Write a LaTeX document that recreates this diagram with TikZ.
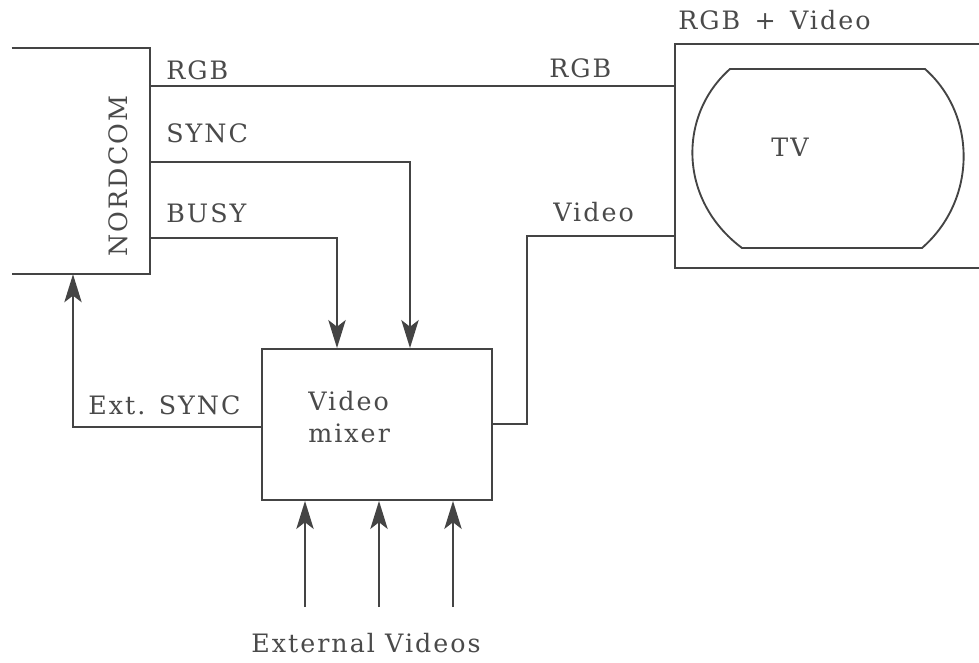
\documentclass[tikz,border=0pt]{standalone}
\usepackage{fontspec}
\setmainfont{DejaVu Serif}[LetterSpace=8]
\usetikzlibrary{arrows.meta,fit}
\definecolor{ink}{HTML}{444444}
\definecolor{txt}{HTML}{4A4A4A}
\begin{document}
\begin{tikzpicture}[x=0.75pt,y=-0.75pt,
  line/.style={draw=ink,line width=1.4pt},
  arr/.style={line,-{Stealth[length=21pt,width=13pt,inset=5pt]}},
  lbl/.style={text=txt,font=\fontsize{19pt}{24pt}\selectfont,inner sep=0pt},
  region/.style={inner sep=0pt,fit={#1}}]
\useasboundingbox (0,0) rectangle (979,663);
\clip (0,0) rectangle (979,663);
% blocks
\node[region={(12,48)(150,274)}] (nc) {};
\node[region={(675,44)(995,268)}] (tv) {};
\node[line,region={(262,349)(492,500)}] (mix) {};
\draw[line] (nc.north west) -- (nc.north east) -- (nc.south east) -- (nc.south west);
\draw[line] (tv.north east) -- (tv.north west) -- (tv.south west) -- (tv.south east);
% screen
\draw[line] (730,69) -- (925,69) .. controls (977,115) and (977,200) .. (922,248)
  -- (742,248) .. controls (678,200) and (678,115) .. (730,69) -- cycle;
% coordinates
\coordinate (yrgb) at (0,86);
\coordinate (sync) at (410,162);
\coordinate (busy) at (337,238);
\coordinate (ext) at (73,427);
\coordinate (vid1) at (527,424);
\coordinate (vid2) at (527,236);
\coordinate (e1) at (305,607);
\coordinate (e2) at (379,607);
\coordinate (e3) at (453,607);
% connectors
\draw[line] (nc.east |- yrgb) -- (tv.west |- yrgb);
\draw[arr] (nc.east |- sync) -- (sync) -- (sync |- mix.north);
\draw[arr] (nc.east |- busy) -- (busy) -- (busy |- mix.north);
\draw[arr] (mix.west |- ext) -- (ext) -- (ext |- nc.south);
\draw[line] (mix.east |- vid1) -- (vid1) -- (vid2) -- (tv.west |- vid2);
\draw[arr] (e1) -- (e1 |- mix.south);
\draw[arr] (e2) -- (e2 |- mix.south);
\draw[arr] (e3) -- (e3 |- mix.south);
% labels
\node[lbl,anchor=west] (lrgb1) at (166,70) {RGB};
\node[lbl,anchor=west] (lrgb2) at (549,68) {RGB};
\node[lbl,anchor=west] (lsync) at (166,133) {SYNC};
\node[lbl,anchor=west] (lbusy) at (166,213) {BUSY};
\node[lbl,anchor=west] (lvid) at (553,212) {Video};
\node[lbl,anchor=west] (lrgbv) at (678,20) {RGB \,+\, Video};
\node[lbl] (ltv) at (790,147) {TV};
\node[lbl,rotate=90] (lnc) at (118,176) {NORDCOM};
\node[lbl,anchor=north west,align=left] (lmix) at (308,391) {Video\\mixer};
\node[lbl,anchor=west] (lext) at (88,405) {Ext. SYNC};
\node[lbl] (lextv) at (366,643) {External Videos};
\end{tikzpicture}
\end{document}
